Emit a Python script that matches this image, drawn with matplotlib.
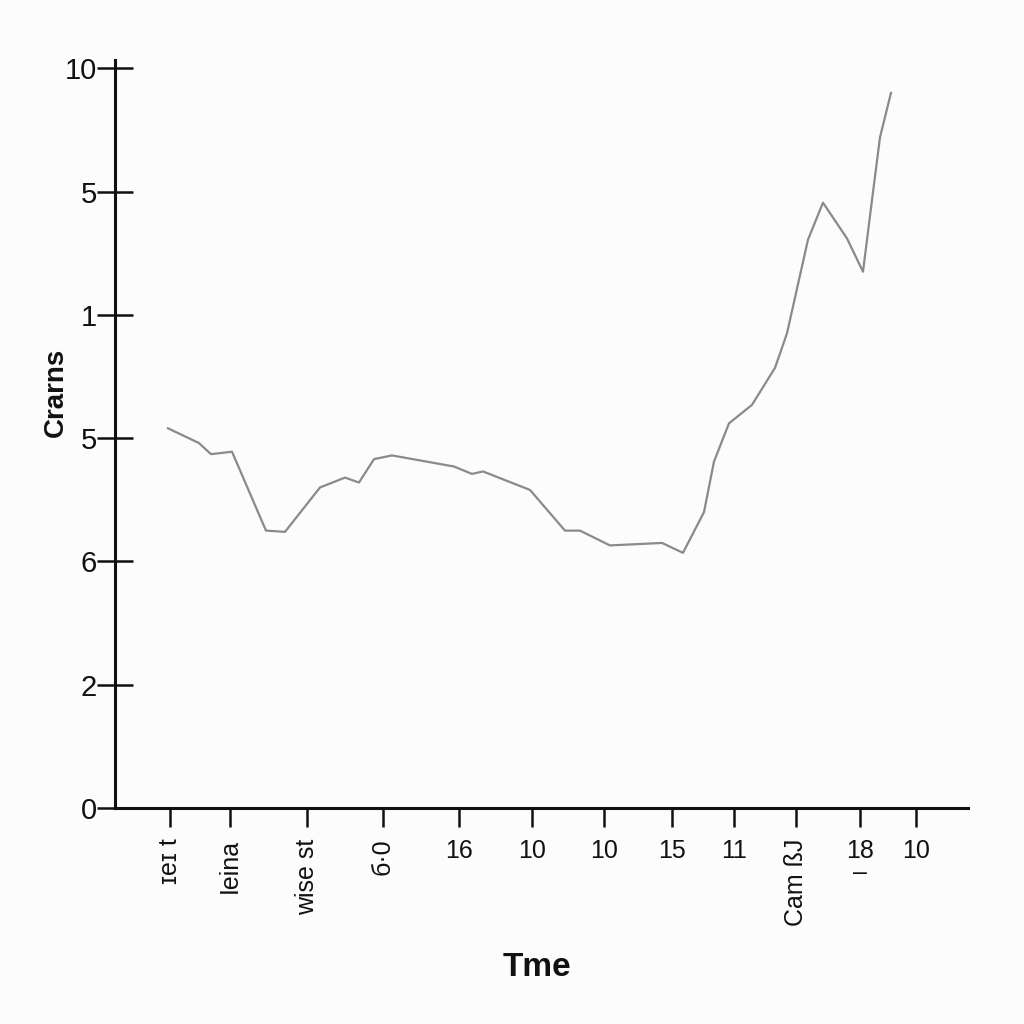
import matplotlib.pyplot as plt

plt.rcParams['font.family'] = ['Liberation Sans', 'DejaVu Sans']

# === DATA ===
time = [5.3, 8.4, 9.6, 11.7, 15.1, 17.0, 20.5, 23.0, 24.4, 25.9, 27.7, 33.9, 35.7,
        36.8, 41.5, 45.0, 46.5, 49.5, 54.7, 56.8, 58.9, 59.9, 61.4, 63.7, 66.0,
        67.2, 69.3, 70.8, 73.2, 74.8, 75.7, 76.5, 77.6]
counts = [3.08, 2.96, 2.87, 2.89, 2.25, 2.24, 2.60, 2.68, 2.64, 2.83, 2.86, 2.77, 2.71,
          2.73, 2.58, 2.25, 2.25, 2.13, 2.15, 2.07, 2.40, 2.81, 3.12, 3.27, 3.57,
          3.85, 4.61, 4.91, 4.62, 4.35, 4.93, 5.44, 5.80]

x_ticks = [5.5, 11.5, 19.2, 26.8, 34.4, 41.7, 48.9, 55.7, 61.9, 68.1, 74.5, 80.1]
x_labels = ['ɪeɪ t', 'Ieina', 'wise st', 'б·0', '16', '10', '10', '15', '11',
            'Cam ßJ', '18\n–', '10']
x_rot = [90, 90, 90, 90, 0, 0, 0, 0, 0, 90, 0, 0]

y_ticks = [0, 1, 2, 3, 4, 5, 6]
y_labels = ['0', '2', '6', '5', '1', '5', '10']

# === PLOT ===
fig = plt.figure(figsize=(10.24, 10.24), dpi=100)
fig.patch.set_facecolor('#fcfcfc')
ax = fig.add_axes([0.1123, 0.2109, 0.833, 0.7305])
ax.set_facecolor('none')

ax.plot(time, counts, color='#8a8a8a', linewidth=1.6)

ax.set_xlim(0, 85.3)
ax.set_ylim(0, 6.067)

for s in ['top', 'right']:
    ax.spines[s].set_visible(False)
for s in ['left', 'bottom']:
    ax.spines[s].set_linewidth(2.2)
    ax.spines[s].set_color('#111111')

ax.set_yticks(y_ticks)
ax.set_yticklabels(y_labels, fontsize=21, color='#111111')
ax.tick_params(axis='y', direction='inout', length=26, width=1.8, pad=0,
               color='#111111')

ax.set_xticks(x_ticks)
ax.set_xticklabels(x_labels, fontsize=18, color='#111111', va='top',
                   linespacing=0.9)
for lbl, r in zip(ax.get_xticklabels(), x_rot):
    lbl.set_rotation(r)
ax.tick_params(axis='x', direction='out', length=14, width=1.8, pad=8,
               color='#111111')

fig.text(56 / 1024, 1 - 392 / 1024, 'Crarns', rotation=90, fontsize=20,
         fontweight='bold', ha='center', va='center', color='#111111')
fig.text(537 / 1024, 1 - 968 / 1024, 'Tme', fontsize=24, fontweight='bold',
         ha='center', va='center', color='#111111')

fig.savefig('out.png', dpi=100, facecolor=fig.get_facecolor())
